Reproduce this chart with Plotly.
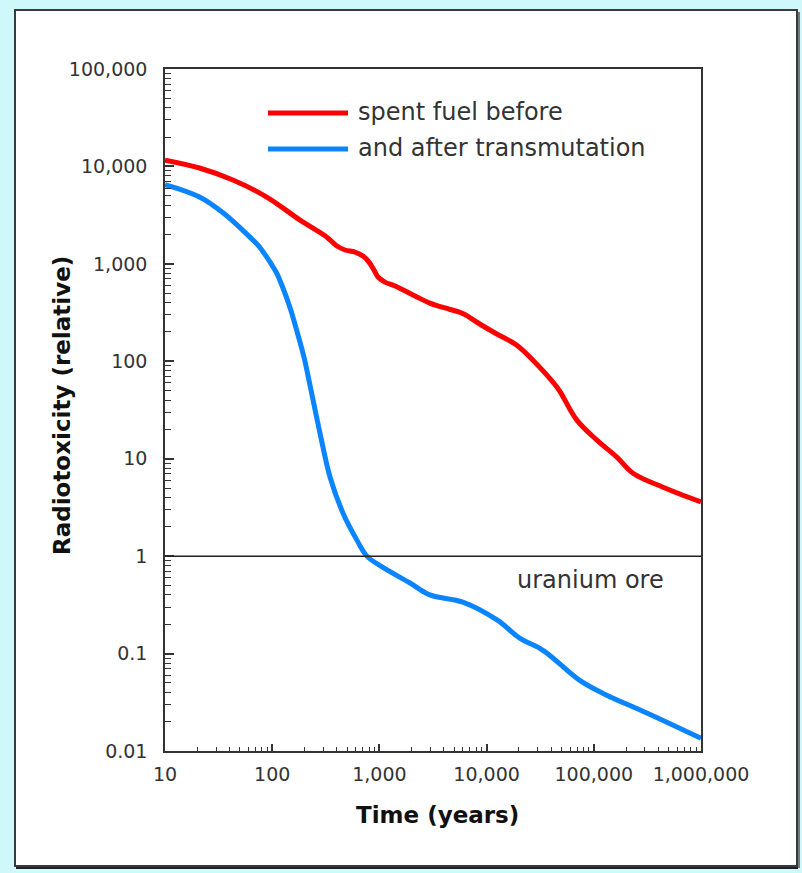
import plotly.graph_objects as go

# ---------------- data ----------------
years_before = [10, 21, 43, 89, 182, 324, 402, 477, 592, 703, 800, 891, 971, 1127, 1400,
                2240, 2950, 4580, 6000, 8700, 12000, 19000, 25400, 45400, 69500, 107000,
                164000, 232000, 442000, 1000000]
tox_before = [11600, 9630, 7250, 4850, 2810, 1880, 1524, 1387, 1322, 1202, 1042, 863, 733, 650, 592,
              457, 396, 340, 310, 240, 195, 147, 110, 54, 24.9, 15.5,
              10.4, 7.1, 5.1, 3.6]

years_after = [10, 21, 35, 62, 75, 89, 100, 111, 126, 147, 170, 198, 225, 279, 346, 458, 617, 765, 1070,
               1930, 2950, 6000, 12600, 20400, 33600, 74000, 122000, 316000, 1000000]
tox_after = [6500, 4850, 3320, 1880, 1520, 1170, 960, 790, 565, 352, 204, 110, 57, 18.3, 6.5, 2.76, 1.46, 1.0, 0.77,
             0.53, 0.40, 0.337, 0.22, 0.144, 0.108, 0.053, 0.039, 0.0244, 0.0135]

ore_level = 1
ore_label = "uranium ore"
series_names = ["spent fuel before", "and after transmutation"]
series_colors = ["#ff0000", "#0a84ff"]

x_tickvals = [10, 100, 1000, 10000, 100000, 1000000]
x_ticktext = ["10", "100", "1,000", "10,000", "100,000", "1,000,000"]
y_tickvals = [0.01, 0.1, 1, 10, 100, 1000, 10000, 100000]
y_ticktext = ["0.01", "0.1", "1", "10", "100", "1,000", "10,000", "100,000"]
x_title = "Time (years)"
y_title = "Radiotoxicity (relative)"

# ---------------- layout helpers ----------------
W, H = 802, 873
L, R, T, B = 165, 701, 69, 751


def px(X):
    return (X - L) / (R - L)


def py(Y):
    return (B - Y) / (B - T)


x_minor = [m * 10 ** e for e in range(1, 6) for m in range(2, 10)]
y_minor = [m * 10 ** e for e in range(-2, 5) for m in range(2, 10)]

FONT = "DejaVu Sans"
AX = "#333333"
BG = "#cff8fb"

fig = go.Figure()
fig.add_trace(go.Scatter(x=years_before, y=tox_before, mode="lines", name=series_names[0],
                         line=dict(color=series_colors[0], width=5, shape="spline", smoothing=1.0),
                         showlegend=False))
fig.add_trace(go.Scatter(x=years_after, y=tox_after, mode="lines", name=series_names[1],
                         line=dict(color=series_colors[1], width=5, shape="spline", smoothing=1.0),
                         showlegend=False))

shapes = [
    # white panel with dark frame
    dict(type="rect", xref="paper", yref="paper", x0=px(15), x1=px(797), y0=py(866), y1=py(10),
         fillcolor="white", line=dict(color="#3a3a3a", width=2), layer="below"),
    dict(type="line", xref="paper", yref="paper", x0=px(16), x1=px(798), y0=py(868), y1=py(868),
         line=dict(color="#222222", width=2), layer="below"),
    dict(type="line", xref="paper", yref="paper", x0=px(799), x1=px(799), y0=py(868), y1=py(12),
         line=dict(color="#555555", width=1.5), layer="below"),
    # uranium ore reference line
    dict(type="line", xref="paper", yref="y", x0=0, x1=1, y0=ore_level, y1=ore_level,
         line=dict(color="#222222", width=1.5)),
    # legend samples
    dict(type="line", xref="paper", yref="paper", x0=px(268), x1=px(348), y0=py(113), y1=py(113),
         line=dict(color=series_colors[0], width=5)),
    dict(type="line", xref="paper", yref="paper", x0=px(268), x1=px(348), y0=py(149), y1=py(149),
         line=dict(color=series_colors[1], width=5)),
]

annotations = [
    dict(text=series_names[0], xref="paper", yref="paper", x=px(356), y=py(112),
         xanchor="left", yanchor="middle", showarrow=False,
         font=dict(family=FONT, size=24, color="#333333")),
    dict(text=series_names[1], xref="paper", yref="paper", x=px(356), y=py(148),
         xanchor="left", yanchor="middle", showarrow=False,
         font=dict(family=FONT, size=24, color="#333333")),
    dict(text=ore_label, xref="paper", yref="paper", x=px(590), y=py(580),
         xanchor="center", yanchor="middle", showarrow=False,
         font=dict(family=FONT, size=24, color="#333333")),
    dict(text="<b>" + x_title + "</b>", xref="paper", yref="paper", x=px(437), y=py(815),
         xanchor="center", yanchor="middle", showarrow=False,
         font=dict(family=FONT, size=23, color="#111111")),
    dict(text="<b>" + y_title + "</b>", xref="paper", yref="paper", x=px(62), y=py(406),
         xanchor="center", yanchor="middle", showarrow=False, textangle=-90,
         font=dict(family=FONT, size=23, color="#111111")),
]

fig.update_layout(
    width=W, height=H,
    margin=dict(l=L, r=W - R, t=T, b=H - B, pad=0),
    paper_bgcolor=BG,
    plot_bgcolor="white",
    font=dict(family=FONT, color=AX),
    shapes=shapes,
    annotations=annotations,
    showlegend=False,
    xaxis=dict(type="log", range=[1, 6], showgrid=False, zeroline=False,
               showline=True, linecolor=AX, linewidth=1.5, mirror=True,
               ticks="inside", ticklen=7, tickwidth=1.5, tickcolor=AX,
               tickvals=x_tickvals, ticktext=x_ticktext,
               tickfont=dict(family=FONT, size=19, color=AX),
               ticklabelstandoff=5,
               minor=dict(tickvals=x_minor, ticks="inside", ticklen=4, tickwidth=1.2, tickcolor=AX)),
    yaxis=dict(type="log", range=[-2, 5], showgrid=False, zeroline=False,
               showline=True, linecolor=AX, linewidth=1.5, mirror=True,
               ticks="inside", ticklen=9, tickwidth=1.5, tickcolor=AX,
               tickvals=y_tickvals, ticktext=y_ticktext,
               tickfont=dict(family=FONT, size=19, color=AX),
               ticklabelstandoff=12,
               minor=dict(tickvals=y_minor, ticks="inside", ticklen=6, tickwidth=1.2, tickcolor=AX)),
)

fig.write_html("out.html", config={"displayModeBar": False},
               post_script="document.body.style.margin='0';document.body.style.background='%s';" % BG)
